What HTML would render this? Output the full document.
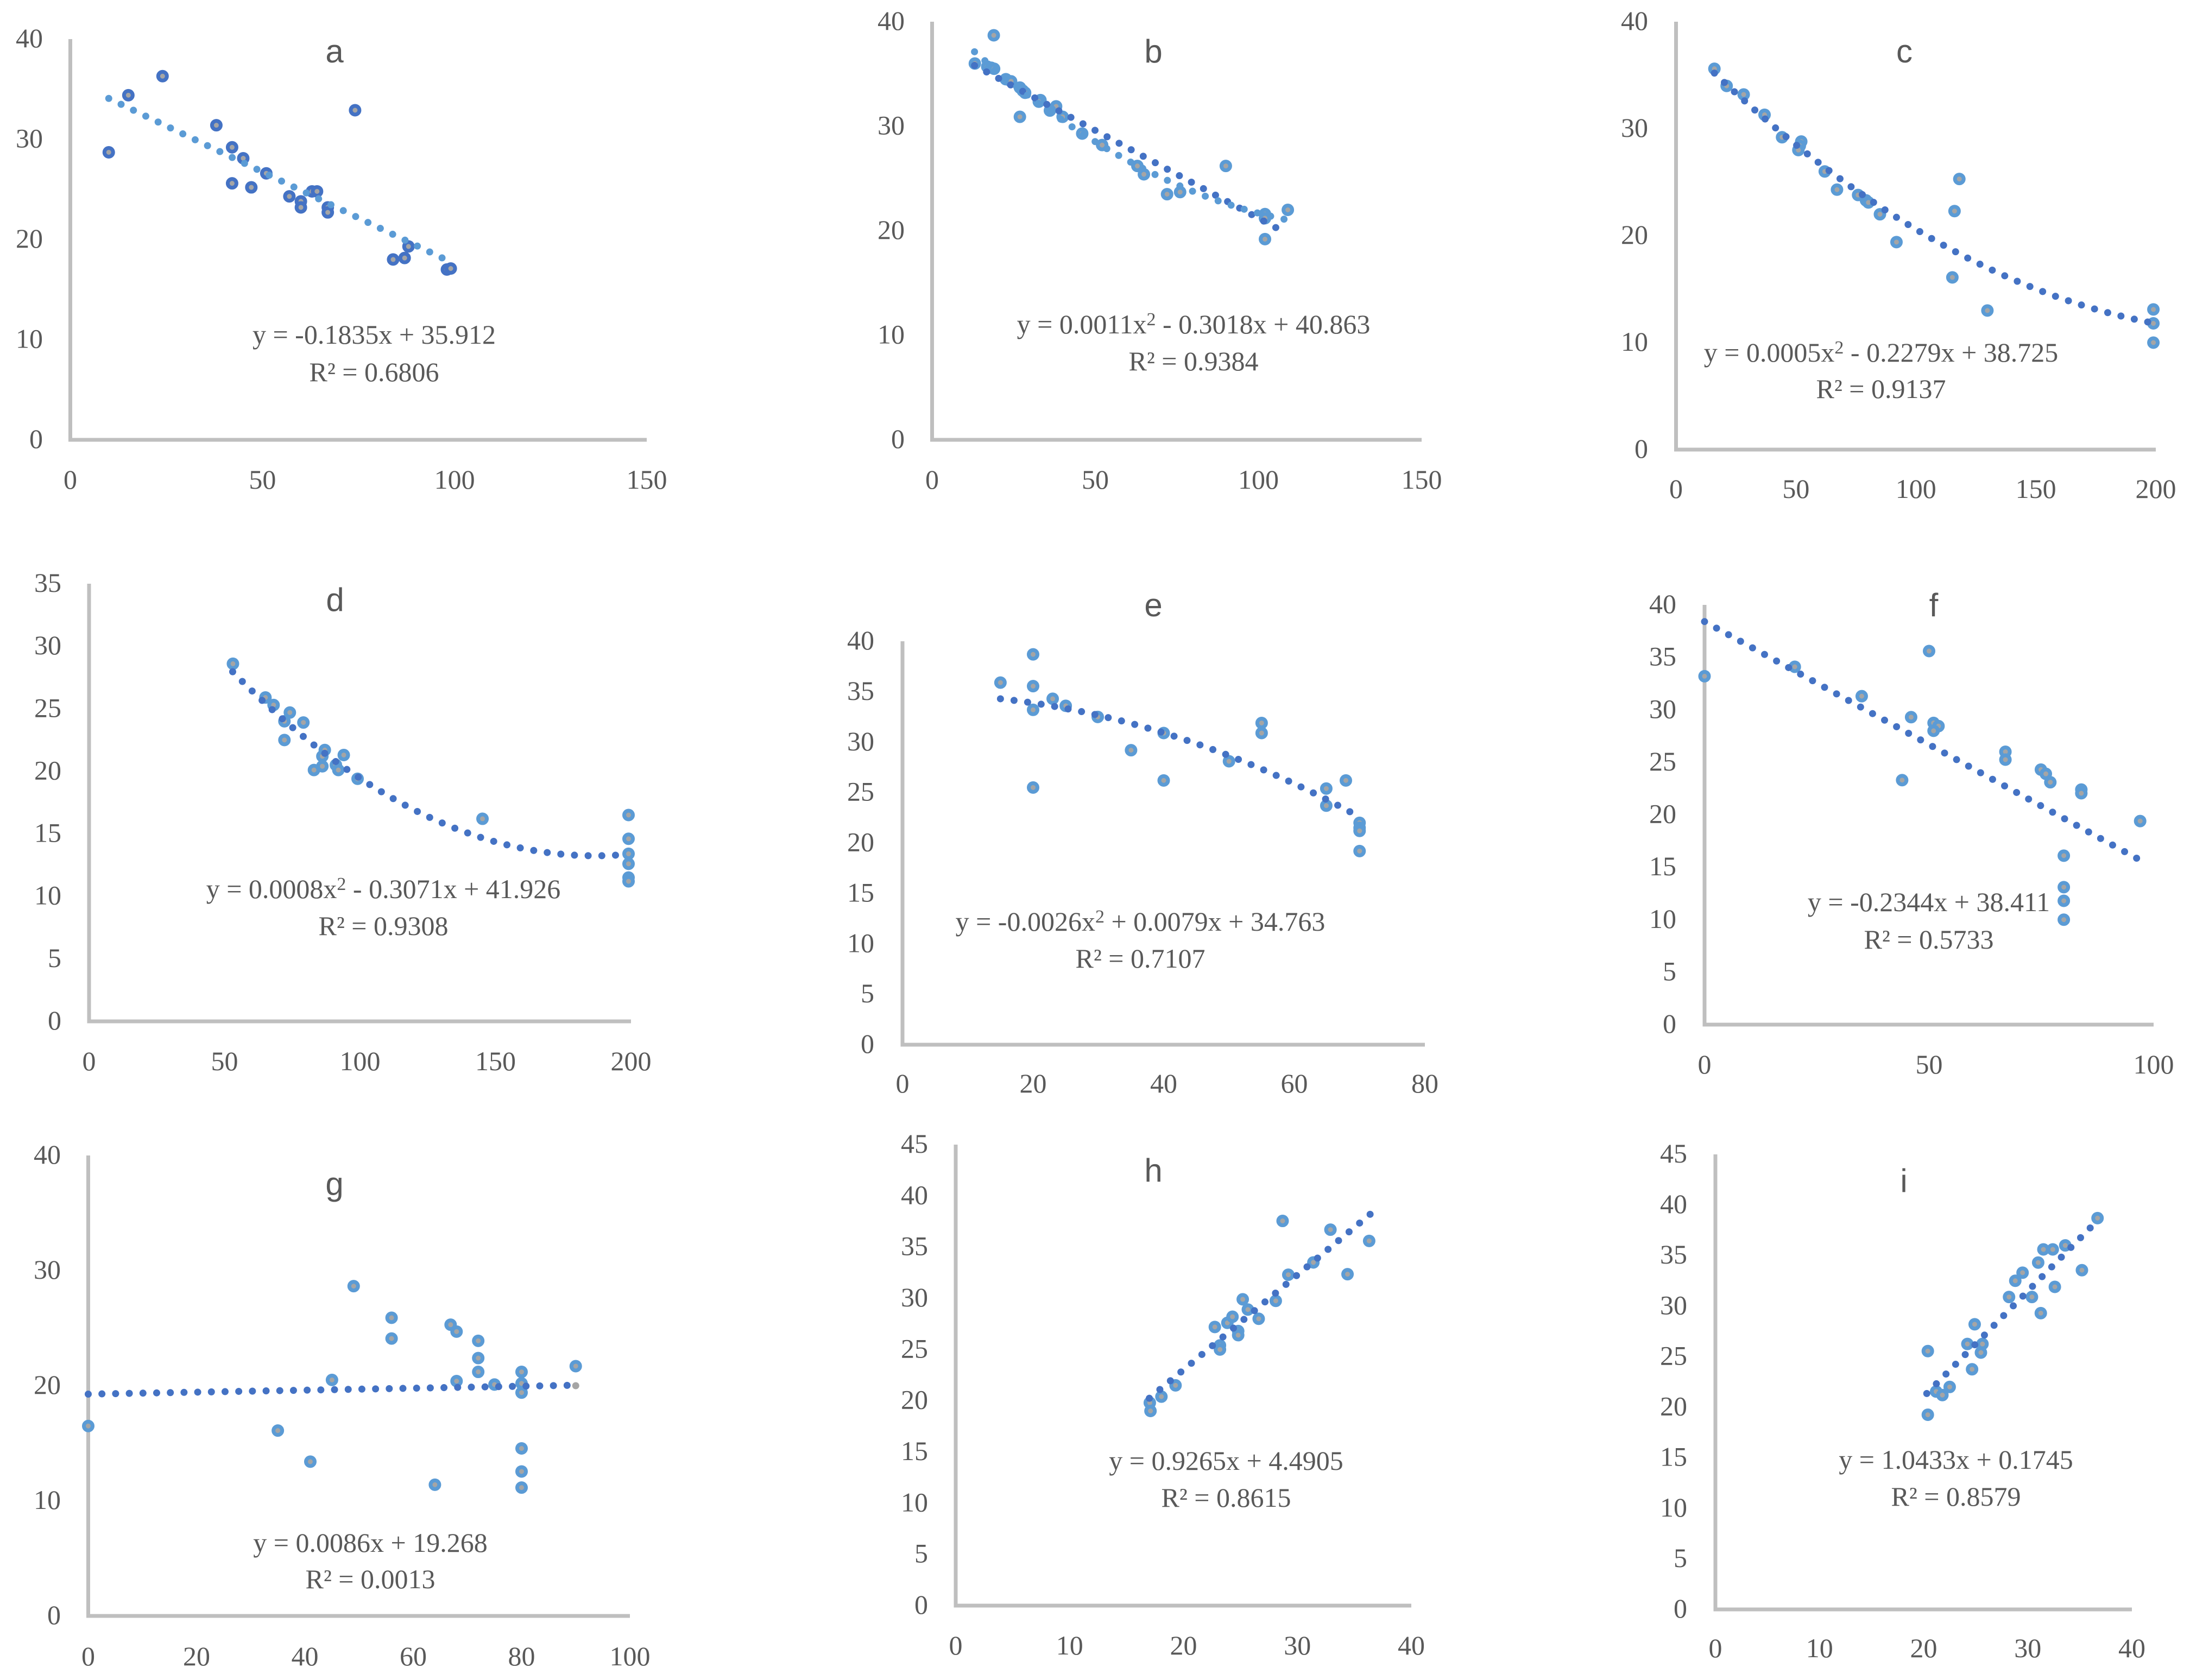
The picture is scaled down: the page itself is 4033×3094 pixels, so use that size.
<!DOCTYPE html>
<html lang="en">
<head>
<meta charset="utf-8">
<title>Scatter plots a to i with trendlines</title>
<style>
  html, body { margin: 0; padding: 0; background: #ffffff; }
  svg { display: block; }
  .tick { font-family: "Liberation Serif", serif; font-size: 50px; fill: #595959; }
  .equation { font-family: "Liberation Serif", serif; font-size: 50px; fill: #595959; text-anchor: middle; }
  .title { font-family: "Liberation Sans", sans-serif; font-size: 60px; fill: #595959; text-anchor: middle; }
</style>
</head>
<body>
<svg id="figure" xmlns="http://www.w3.org/2000/svg" width="4033" height="3094" viewBox="0 0 4033 3094"></svg>
<script>
// ---- Panel a ----
const aX = [10,15.1,24,38,42.1,42.1,45,47.1,51,57,60,60,62.9,64.2,67,67,74.1,84,87,88,98,99];
const aY = [28.7,34.4,36.3,31.4,29.2,25.6,28.1,25.2,26.6,24.3,23.8,23.2,24.8,24.8,23.2,22.7,32.9,18,18.15,19.3,17,17.1];
const aXTicks = [0,50,100,150];
const aYTicks = [0,10,20,30,40];
const aFit = [0,-0.1835,35.912];
const aFitRange = [10,99];
const aEquation = ["y = -0.1835x + 35.912","R² = 0.6806"];

// ---- Panel b ----
const bX = [18.9,13.1,16.9,18.1,19,22.6,24.2,26.9,27.8,28.5,26.9,33.2,32.7,38,36.1,40,46,52.1,62.9,64.9,72,76,90,102,102,102,109];
const bY = [38.7,36,35.7,35.6,35.5,34.5,34.3,33.7,33.4,33.2,30.9,32.5,32.35,31.9,31.5,30.9,29.3,28.2,26.2,25.4,23.5,23.7,26.2,21.6,21.2,19.2,22];
const bXTicks = [0,50,100,150];
const bYTicks = [0,10,20,30,40];
const bFit = [0.0011,-0.3018,40.863];
const bFitRange = [13,109];
const bFit2 = [0,-0.168,38];
const bFit2Range = [13,109];
const bEquation = ["y = 0.0011x² - 0.3018x + 40.863","R² = 0.9384"];

// ---- Panel c ----
const cX = [16,21.1,28.2,36.9,44.2,52.2,51.6,51,62,67.1,75.9,79.2,80.2,85,91.9,115.2,116.1,118.1,129.8,199,199,199];
const cY = [35.6,34,33.2,31.3,29.2,28.8,28.4,28,26,24.3,23.8,23.3,23.1,22,19.4,16.1,22.3,25.3,13,13.1,11.8,10];
const cXTicks = [0,50,100,150,200];
const cYTicks = [0,10,20,30,40];
const cFit = [0.000466,-0.2279,38.725];
const cFitRange = [16,199];
const cEquation = ["y = 0.0005x² - 0.2279x + 38.725","R² = 0.9137"];

// ---- Panel d ----
const dX = [53.1,65.1,68.1,74.1,72.1,79.1,72.1,87,86.1,94,91.1,86.1,92,83,99.1,145.2,199.1,199.1,199.1,199.1,199.1,199.1];
const dY = [28.6,25.9,25.3,24.7,24,23.9,22.5,21.7,21.2,21.3,20.5,20.4,20.1,20.1,19.4,16.2,16.5,14.6,13.4,12.6,11.5,11.2];
const dXTicks = [0,50,100,150,200];
const dYTicks = [0,5,10,15,20,25,30,35];
const dFit = [0.000822,-0.3071,41.926];
const dFitRange = [53,199];
const dEquation = ["y = 0.0008x² - 0.3071x + 41.926","R² = 0.9308"];

// ---- Panel e ----
const eX = [20,15,20,23,25,20,29.9,40,35,55,55,50,40,20,64.9,67.9,64.9,70,70,70,70];
const eY = [38.7,35.9,35.55,34.3,33.6,33.2,32.5,30.9,29.2,31.9,30.9,28.1,26.2,25.5,25.4,26.2,23.7,22,21.5,21.2,19.2];
const eXTicks = [0,20,40,60,80];
const eYTicks = [0,5,10,15,20,25,30,35,40];
const eFit = [-0.0026,0.0079,34.763];
const eFitRange = [15,70];
const eEquation = ["y = -0.0026x² + 0.0079x + 34.763","R² = 0.7107"];

// ---- Panel f ----
const fX = [0,20.1,35,46,44,50,51,52.1,51,67,67,74.9,76,77,80,80,80,80,83.9,83.9,97];
const fY = [33.2,34.1,31.3,29.3,23.3,35.6,28.75,28.45,28,26,25.25,24.3,23.9,23.1,16.1,13.1,11.8,10,22.4,22.05,19.4];
const fXTicks = [0,50,100];
const fYTicks = [0,5,10,15,20,25,30,35,40];
const fFit = [0,-0.2344,38.411];
const fFitRange = [0,97];
const fEquation = ["y = -0.2344x + 38.411","R² = 0.5733"];

// ---- Panel g ----
const gX = [0,35,41,45,49,56,56,64,66.9,68,68,72,72,72,75,80,80,80,80,80,80,90];
const gY = [16.5,16.1,13.4,20.5,28.65,25.9,24.1,11.4,25.3,24.7,20.4,23.9,22.4,21.2,20.1,21.2,20.2,19.4,14.55,12.55,11.15,21.7];
const gXTicks = [0,20,40,60,80,100];
const gYTicks = [0,10,20,30,40];
const gFit = [0,0.0086,19.268];
const gFitRange = [0,89];
const gStrayX = [90];
const gStrayY = [20];
const gEquation = ["y = 0.0086x + 19.268","R² = 0.0013"];

// ---- Panel h ----
const hX = [17.04,17.1,18.06,19.3,22.75,23.2,23.2,23.85,24.3,24.8,24.8,25.2,25.65,26.6,28.1,28.7,29.2,31.4,32.9,34.4,36.3];
const hY = [19.8,19,20.4,21.5,27.2,25.4,25,27.6,28.2,26.8,26.4,29.9,28.9,28,29.75,37.55,32.3,33.5,36.7,32.35,35.6];
const hXTicks = [0,10,20,30,40];
const hYTicks = [0,5,10,15,20,25,30,35,40,45];
const hFit = [0,0.9265,4.4905];
const hFitRange = [17,36.4];
const hEquation = ["y = 0.9265x + 4.4905","R² = 0.8615"];

// ---- Panel i ----
const iX = [20.4,20.4,21.2,21.8,22.5,24.2,24.65,24.9,25.65,25.5,28.2,28.8,29.5,30.4,31,31.25,31.5,32.4,32.6,33.6,35.2,36.7];
const iY = [19.25,25.55,21.55,21.2,22,26.25,23.75,28.2,26.25,25.4,30.9,32.5,33.3,30.9,34.3,29.3,35.6,35.6,31.9,36,33.55,38.7];
const iXTicks = [0,10,20,30,40];
const iYTicks = [0,5,10,15,20,25,30,35,40,45];
const iFit = [0,1.0433,0.1745];
const iFitRange = [20.3,36.7];
const iEquation = ["y = 1.0433x + 0.1745","R² = 0.8579"];

// ---- Layout and style (separate from the data) ----
const LIGHT = "#5b9bd5", DARK = "#4472c4", GRAY = "#a5a5a5", AXIS = "#bfbfbf";
const SVGNS = "http://www.w3.org/2000/svg";
const figure = document.getElementById("figure");

const panels = [
  {id:"a", xs:aX, ys:aY, xTicks:aXTicks, yTicks:aYTicks, fits:[{c:aFit,r:aFitRange,color:LIGHT}], eq:aEquation, marker:DARK,
   left:129.5, right:1191, top:72, bottom:810, xLabelY:900, yLabelRight:79, titleX:616, titleY:115, eqX:689, eqY:[633,702]},
  {id:"b", xs:bX, ys:bY, xTicks:bXTicks, yTicks:bYTicks, fits:[{c:bFit2,r:bFit2Range,color:DARK},{c:bFit,r:bFitRange,color:LIGHT}], eq:bEquation, marker:LIGHT,
   left:1716.5, right:2618, top:40, bottom:810, xLabelY:900, yLabelRight:1666, titleX:2124, titleY:115, eqX:2198, eqY:[614,682]},
  {id:"c", xs:cX, ys:cY, xTicks:cXTicks, yTicks:cYTicks, fits:[{c:cFit,r:cFitRange,color:DARK}], eq:cEquation, marker:LIGHT,
   left:3086.5, right:3970, top:40, bottom:828, xLabelY:917, yLabelRight:3035, titleX:3507, titleY:115, eqX:3464, eqY:[666,733]},
  {id:"d", xs:dX, ys:dY, xTicks:dXTicks, yTicks:dYTicks, fits:[{c:dFit,r:dFitRange,color:DARK}], eq:dEquation, marker:LIGHT,
   left:164, right:1162, top:1075, bottom:1881, xLabelY:1971, yLabelRight:113, titleX:617, titleY:1125, eqX:706, eqY:[1654,1722]},
  {id:"e", xs:eX, ys:eY, xTicks:eXTicks, yTicks:eYTicks, fits:[{c:eFit,r:eFitRange,color:DARK}], eq:eEquation, marker:LIGHT,
   left:1662, right:2624, top:1181, bottom:1924, xLabelY:2012, yLabelRight:1610, titleX:2124, titleY:1135, eqX:2100, eqY:[1714,1782]},
  {id:"f", xs:fX, ys:fY, xTicks:fXTicks, yTicks:fYTicks, fits:[{c:fFit,r:fFitRange,color:DARK}], eq:fEquation, marker:LIGHT,
   left:3139, right:3966, top:1114, bottom:1887, xLabelY:1977, yLabelRight:3087, titleX:3561, titleY:1135, eqX:3552, eqY:[1678,1747]},
  {id:"g", xs:gX, ys:gY, xTicks:gXTicks, yTicks:gYTicks, fits:[{c:gFit,r:gFitRange,color:DARK}], eq:gEquation, marker:LIGHT,
   left:162.5, right:1160, top:2128, bottom:2976, xLabelY:3067, yLabelRight:112, titleX:616, titleY:2201, eqX:682, eqY:[2858,2925],
   strayX:gStrayX, strayY:gStrayY},
  {id:"h", xs:hX, ys:hY, xTicks:hXTicks, yTicks:hYTicks, fits:[{c:hFit,r:hFitRange,color:DARK}], eq:hEquation, marker:LIGHT,
   left:1760, right:2599, top:2108, bottom:2957, xLabelY:3047, yLabelRight:1709, titleX:2124, titleY:2176, eqX:2258, eqY:[2707,2775]},
  {id:"i", xs:iX, ys:iY, xTicks:iXTicks, yTicks:iYTicks, fits:[{c:iFit,r:iFitRange,color:DARK}], eq:iEquation, marker:LIGHT,
   left:3159, right:3926, top:2126, bottom:2964, xLabelY:3052, yLabelRight:3107, titleX:3506, titleY:2195, eqX:3602, eqY:[2705,2773]}
];

function xAxisScale(p, v) {
  const max = p.xTicks[p.xTicks.length - 1];
  return p.left + (v / max) * (p.right - p.left);
}
function yAxisScale(p, v) {
  const max = p.yTicks[p.yTicks.length - 1];
  return p.bottom - (v / max) * (p.bottom - p.top);
}
function make(tag, attrs, parent) {
  const el = document.createElementNS(SVGNS, tag);
  for (const k in attrs) el.setAttribute(k, attrs[k]);
  parent.appendChild(el);
  return el;
}
function fillEquation(el, txt) {
  const parts = txt.split("x²");
  if (parts.length < 2) { el.textContent = txt; return; }
  const head = make("tspan", {}, el);
  head.textContent = parts[0] + "x";
  const sup = make("tspan", {dy:-15, "font-size":34}, el);
  sup.textContent = "2";
  const tail = make("tspan", {dy:15}, el);
  tail.textContent = parts[1];
}

panels.forEach(function (p) {
  const g = make("g", {}, figure);
  
  

  // Axes
  const yAxis = make("line", {x1:p.left, x2:p.left, y1:p.top, y2:p.bottom + 3.5, stroke:AXIS, "stroke-width":7}, g);
  
  
  const xAxis = make("line", {x1:p.left - 3.5, x2:p.right, y1:p.bottom, y2:p.bottom, stroke:AXIS, "stroke-width":7}, g);
  
  

  // Tick labels
  p.yTicks.forEach(function (t) {
    const el = make("text", {class:"tick", x:p.yLabelRight, y:yAxisScale(p, t) + 15, "text-anchor":"end"}, g);
    el.textContent = String(t);
    
    
  });
  p.xTicks.forEach(function (t) {
    const el = make("text", {class:"tick", x:xAxisScale(p, t), y:p.xLabelY, "text-anchor":"middle"}, g);
    el.textContent = String(t);
    
    
  });

  // Title
  const title = make("text", {class:"title", x:p.titleX, y:p.titleY}, g);
  title.textContent = p.id;
  
  

  // Stray grey point
  if (p.strayX) {
    p.strayX.forEach(function (v, i) {
      const s = make("circle", {cx:xAxisScale(p, v), cy:yAxisScale(p, p.strayY[i]), r:6.5, fill:GRAY}, g);
      
      
    });
  }

  // Markers
  p.xs.forEach(function (v, i) {
    const c = make("circle", {cx:xAxisScale(p, v), cy:yAxisScale(p, p.ys[i]), r:8, fill:GRAY, stroke:p.marker, "stroke-width":7}, g);
    
    
  });

  // Trendlines
  p.fits.forEach(function (f, n) {
    const steps = 80;
    let d = "";
    for (let s = 0; s <= steps; s++) {
      const v = f.r[0] + (f.r[1] - f.r[0]) * s / steps;
      const w = f.c[0] * v * v + f.c[1] * v + f.c[2];
      d += (s ? "L" : "M") + xAxisScale(p, v).toFixed(2) + " " + yAxisScale(p, w).toFixed(2);
    }
    const line = make("path", {d:d, fill:"none", stroke:f.color, "stroke-width":13, "stroke-linecap":"round", "stroke-dasharray":"0 25.2"}, g);
    
    
  });

  // Equation and R-squared
  p.eq.forEach(function (txt, i) {
    const el = make("text", {class:"equation", x:p.eqX, y:p.eqY[i]}, g);
    fillEquation(el, txt);
    
    
  });
});
</script>
</body>
</html>
